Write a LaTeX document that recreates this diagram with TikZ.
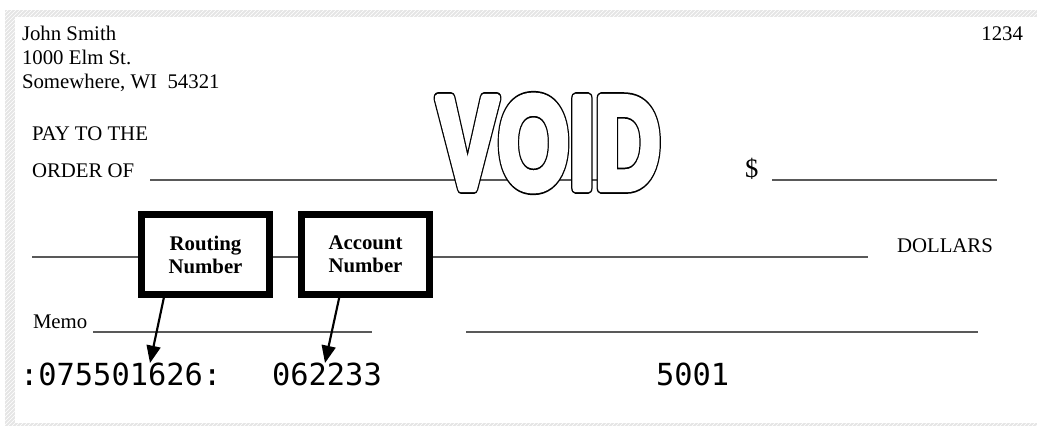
\documentclass[tikz,border=0pt]{standalone}
\usepackage{graphicx}
\usepackage{fontspec}
\setmainfont{Liberation Serif}
\newfontfamily\micrfont{DejaVu Sans Mono}
\newfontfamily\voidfont{Liberation Sans}
\usetikzlibrary{arrows.meta,patterns,calc}
% emboldened outline: wide black stroke, then white fill + slightly narrower white stroke
\newcommand{\outlinedtext}[1]{%
  \rlap{\special{pdf:code 1 Tr 0 G 1 j 8.8 w}#1\special{pdf:code 0 Tr 0 g 0 G 0 j}}%
  \special{pdf:code 2 Tr 1 g 1 G 1 j 6.2 w}#1\special{pdf:code 0 Tr 0 g 0 G 0 j}}
\begin{document}
\begin{tikzpicture}[x=0.75pt,y=-0.75pt,
  every node/.style={inner sep=0pt,outer sep=0pt},
  txt/.style={anchor=base west,font=\fontsize{15.6}{18}\selectfont},
  formline/.style={draw=black!65,line width=1pt},
  numbox/.style={draw=black,line width=5.25pt,fill=white,minimum width=96pt,minimum height=60pt,align=center,font=\fontsize{15.6}{17.25}\selectfont\bfseries},
  band/.style={fill=black!10,postaction={pattern=north east lines,pattern color=white}},
  ptr/.style={line width=1.6pt,-{Triangle[length=13pt,width=10.5pt]}},
  micr/.style={anchor=base west,font=\micrfont\fontsize{22.8}{24}\selectfont}]
\useasboundingbox (0,0) rectangle (1037,426);
\fill[white] (0,0) rectangle (1037,426);
% hatched frame
\path[band] (5,10) rectangle (1037,17);
\path[band] (5,10) rectangle (15,426);
\path[band] (5,423) rectangle (1037,426);
% form lines
\draw[formline] (150,180) -- (620,180);
\draw[formline] (772,180) -- (997,180);
\draw[formline] (32,257) -- (868,257);
\draw[formline] (93,332) -- (372,332);
\draw[formline] (466,332) -- (978,332);
% VOID stamp
\node[anchor=base west,font=\voidfont\bfseries\fontsize{98}{98}\selectfont] (void) at (437,188) {\scalebox{0.70}[1]{\outlinedtext{VOID}}};
% header texts
\node[txt] (name) at (22,40) {John Smith};
\node[txt] (street) at (22,64) {1000 Elm St.};
\node[txt] (city) at (22,88) {Somewhere, WI\ \ 54321};
\node[txt,anchor=base east] (checkno) at (1023,40) {1234};
\node[txt] (payto) at (32,140) {PAY TO THE};
\node[txt] (orderof) at (32,177) {ORDER OF};
\node[txt,font=\fontsize{20}{22}\selectfont] (dollarsign) at (745,177) {\$};
\node[txt] (dollars) at (897,252) {DOLLARS};
\node[txt] (memo) at (33,328) {Memo};
% MICR line
\node[micr] (routing) at (20,385) {:075501626:};
\node[micr] (account) at (272,385) {062233};
\node[micr] (checknum) at (656,385) {5001};
% callout boxes
\node[numbox] (rbox) at (205.5,254.5) {Routing\\Number};
\node[numbox] (abox) at (365.5,254.5) {Account\\Number};
\coordinate (rtip) at (150,363);
\coordinate (atip) at (325,363);
\draw[ptr] ($(rbox.south west)!0.18!(rbox.south east)$) -- (rtip);
\draw[ptr] ($(abox.south west)!0.30!(abox.south east)$) -- (atip);
\end{tikzpicture}
\end{document}
